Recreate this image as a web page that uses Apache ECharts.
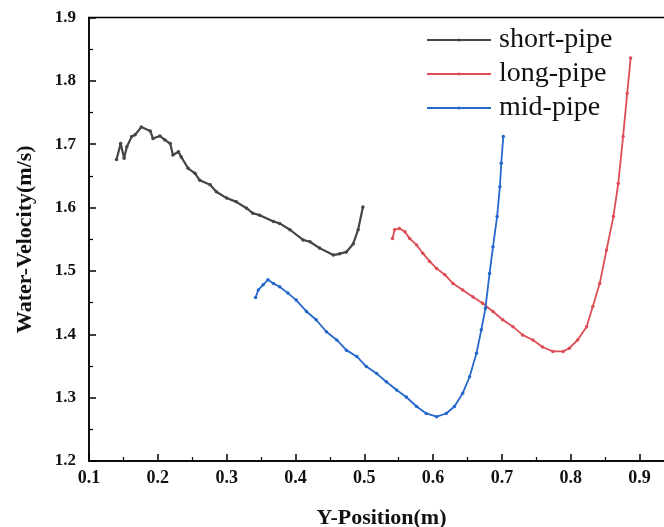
<!DOCTYPE html>
<html>
<head>
<meta charset="utf-8">
<script src="https://cdn.jsdelivr.net/npm/echarts@6/dist/echarts.min.js"></script>
<style>html,body{margin:0;padding:0;background:#fff;}#c{width:664px;height:527px;}</style>
</head>
<body>
<div id="c"></div>
<script>
var seriesNames = ['short-pipe', 'long-pipe', 'mid-pipe'];
var xTicks = [0.1, 0.2, 0.3, 0.4, 0.5, 0.6, 0.7, 0.8, 0.9];
var yTicks = [1.2, 1.3, 1.4, 1.5, 1.6, 1.7, 1.8, 1.9];

var shortX = [0.140,0.146,0.151,0.155,0.162,0.167,0.176,0.189,0.193,0.203,0.210,0.218,0.222,0.230,0.234,0.244,0.254,0.261,0.276,0.285,0.300,0.314,0.329,0.338,0.348,0.368,0.377,0.392,0.411,0.421,0.435,0.455,0.464,0.474,0.484,0.491,0.498];
var shortV = [1.676,1.701,1.678,1.696,1.712,1.715,1.727,1.721,1.709,1.713,1.707,1.701,1.683,1.688,1.680,1.662,1.654,1.643,1.636,1.625,1.615,1.609,1.599,1.591,1.588,1.578,1.575,1.565,1.549,1.546,1.536,1.525,1.527,1.530,1.543,1.565,1.601];

var longX = [0.541,0.544,0.551,0.559,0.566,0.576,0.585,0.595,0.605,0.617,0.629,0.643,0.658,0.672,0.687,0.701,0.716,0.730,0.745,0.759,0.774,0.789,0.798,0.810,0.823,0.832,0.842,0.852,0.862,0.869,0.876,0.882,0.887];
var longV = [1.551,1.565,1.567,1.562,1.551,1.541,1.528,1.515,1.504,1.494,1.480,1.470,1.459,1.449,1.436,1.423,1.412,1.399,1.391,1.380,1.373,1.373,1.378,1.391,1.412,1.444,1.480,1.533,1.586,1.638,1.712,1.780,1.836];

var midX = [0.342,0.346,0.353,0.360,0.368,0.377,0.389,0.401,0.416,0.430,0.445,0.460,0.474,0.489,0.503,0.518,0.532,0.547,0.561,0.576,0.590,0.605,0.619,0.631,0.643,0.653,0.663,0.670,0.676,0.682,0.687,0.693,0.697,0.699,0.702];
var midV = [1.458,1.470,1.478,1.486,1.480,1.475,1.465,1.454,1.436,1.423,1.404,1.391,1.375,1.365,1.349,1.338,1.325,1.312,1.301,1.286,1.275,1.270,1.275,1.286,1.307,1.333,1.370,1.407,1.441,1.496,1.538,1.586,1.633,1.670,1.712];

var colors = ['#454545', '#de4d55', '#2468cc'];

function pairs(xs, vs) { return xs.map(function (x, i) { return [x, vs[i]]; }); }

var chart = echarts.init(document.getElementById('c'), null, {renderer: 'canvas'});
var font = 'Liberation Serif, Times New Roman, serif';
function mkSeries(name, xs, vs, color, lw) {
  return {
    name: name, type: 'line', data: pairs(xs, vs),
    smooth: false, symbol: 'circle', symbolSize: 3.5, showSymbol: true,
    lineStyle: {color: color, width: lw}, itemStyle: {color: color},
    animation: false
  };
}
chart.setOption({
  backgroundColor: '#ffffff',
  animation: false,
  color: colors,
  grid: {left: 89, top: 17.5, right: -10, bottom: 66, containLabel: false, outerBoundsMode: 'none',
    show: true, borderColor: '#000', borderWidth: 1.5, backgroundColor: 'transparent'},
  legend: {
    left: 426, top: 26, padding: 0, orient: 'vertical', itemWidth: 64, itemHeight: 4, itemGap: 6,
    data: seriesNames,
    textStyle: {fontFamily: font, fontSize: 28, color: '#111', padding: [0, 0, 0, 3]}
  },
  xAxis: {
    type: 'value', min: xTicks[0], max: 0.95, interval: 0.1,
    name: 'Y-Position(m)', nameLocation: 'middle', nameGap: 46,
    nameTextStyle: {fontFamily: font, fontSize: 22, fontWeight: 'bold', color: '#111'},
    axisLine: {show: true, onZero: false, lineStyle: {color: '#000', width: 1.5}},
    axisTick: {show: true, inside: true, length: 7, lineStyle: {color: '#000', width: 1.5}},
    minorTick: {show: true, splitNumber: 2, length: 4, lineStyle: {color: '#000', width: 1.2}},
    splitLine: {show: false},
    axisLabel: {fontFamily: font, fontSize: 18, fontWeight: 'bold', color: '#111', margin: 8, showMaxLabel: false,
      formatter: function (v) { return v.toFixed(1); }}
  },
  yAxis: {
    type: 'value', min: yTicks[0], max: yTicks[yTicks.length - 1], interval: 0.1,
    name: 'Water-Velocity(m/s)', nameLocation: 'middle', nameGap: 53,
    nameTextStyle: {fontFamily: font, fontSize: 22, fontWeight: 'bold', color: '#111'},
    axisLine: {show: true, onZero: false, lineStyle: {color: '#000', width: 1.5}},
    axisTick: {show: true, inside: true, length: 7, lineStyle: {color: '#000', width: 1.5}},
    minorTick: {show: true, splitNumber: 2, length: 4, lineStyle: {color: '#000', width: 1.2}},
    splitLine: {show: false},
    axisLabel: {fontFamily: font, fontSize: 17, fontWeight: 'bold', color: '#111', margin: 13,
      formatter: function (v) { return v.toFixed(1); }}
  },
  series: [
    mkSeries(seriesNames[0], shortX, shortV, colors[0], 2.2),
    mkSeries(seriesNames[1], longX, longV, colors[1], 1.8),
    mkSeries(seriesNames[2], midX, midV, colors[2], 1.8)
  ]
});
</script>
</body>
</html>
